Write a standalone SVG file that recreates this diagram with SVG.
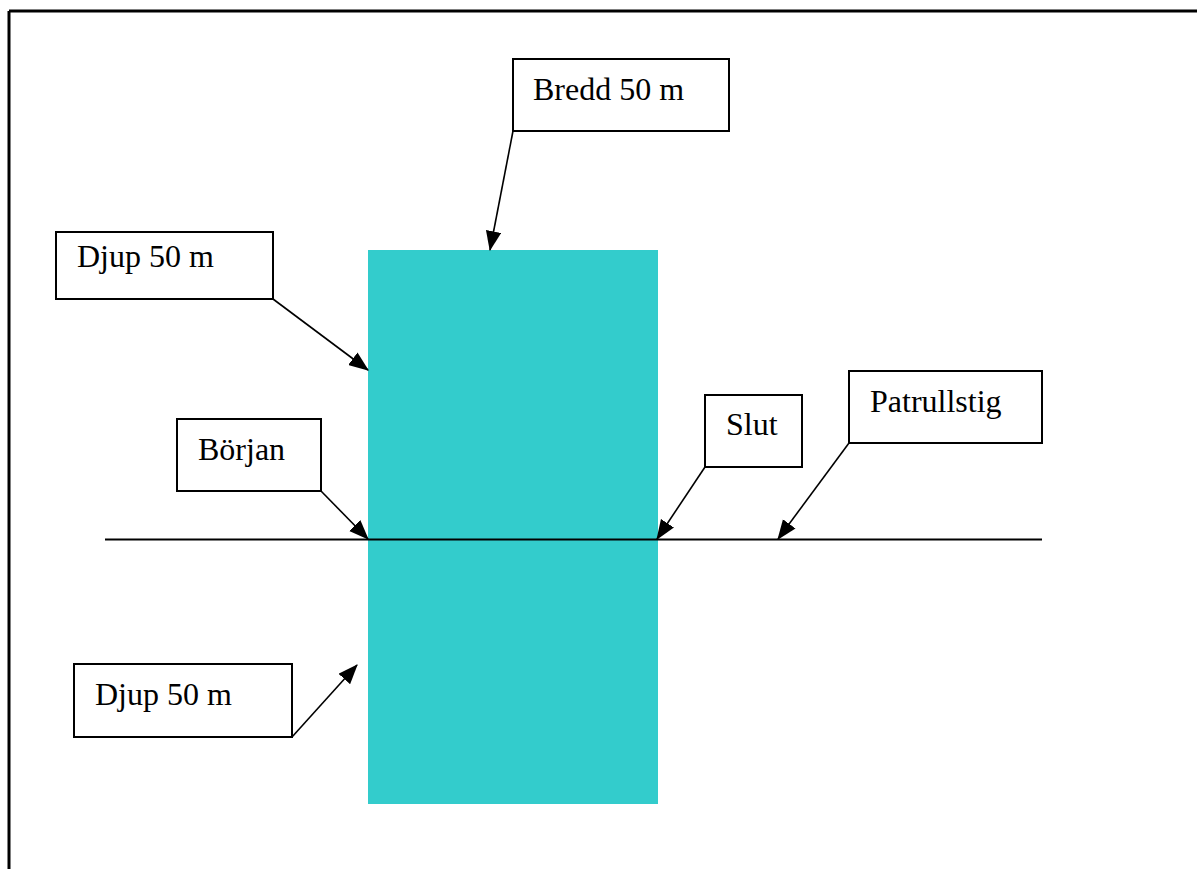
<svg xmlns="http://www.w3.org/2000/svg" width="1197" height="869" viewBox="0 0 1197 869">
<style>
.box{fill:#fff;stroke:#000;stroke-width:2}
.lbl{font-family:"Liberation Serif","Times New Roman",serif;font-size:32px;fill:#000}
.conn{stroke:#000;stroke-width:1.6;fill:none}
</style>
<defs>
<marker id="arr" markerUnits="userSpaceOnUse" markerWidth="20" markerHeight="16" refX="17" refY="7" orient="auto" viewBox="0 0 18 14">
<path d="M0,0 L18,7 L0,14 Z" fill="#000"/>
</marker>
</defs>
<rect x="0" y="0" width="1197" height="869" fill="#fff"/>
<g id="frame">
<line x1="9" y1="11" x2="1197" y2="11" stroke="#000" stroke-width="3"/>
<line x1="9" y1="11" x2="9" y2="869" stroke="#000" stroke-width="3"/>
</g>
<g id="area">
<rect x="368" y="250" width="290" height="554" fill="#33CCCC"/>
</g>
<g id="path-line">
<line x1="105" y1="539.5" x2="1042" y2="539.5" stroke="#000" stroke-width="2"/>
</g>
<g id="connectors">
<line class="conn" x1="513" y1="131" x2="490" y2="250" marker-end="url(#arr)"/>
<line class="conn" x1="273" y1="299" x2="368" y2="370" marker-end="url(#arr)"/>
<line class="conn" x1="321" y1="491" x2="368" y2="539" marker-end="url(#arr)"/>
<line class="conn" x1="705" y1="467" x2="657" y2="539" marker-end="url(#arr)"/>
<line class="conn" x1="849" y1="443" x2="778" y2="539" marker-end="url(#arr)"/>
<line class="conn" x1="292" y1="737" x2="357" y2="665" marker-end="url(#arr)"/>
</g>
<g id="bredd">
<rect class="box" x="513" y="59" width="216" height="72"/>
<text class="lbl" x="533" y="100">Bredd 50 m</text>
</g>
<g id="djup-top">
<rect class="box" x="56" y="232" width="217" height="67"/>
<text class="lbl" x="77" y="267">Djup 50 m</text>
</g>
<g id="borjan">
<rect class="box" x="177" y="419" width="144" height="72"/>
<text class="lbl" x="198" y="460">Början</text>
</g>
<g id="slut">
<rect class="box" x="705" y="395" width="97" height="72"/>
<text class="lbl" x="726" y="435">Slut</text>
</g>
<g id="patrullstig">
<rect class="box" x="849" y="371" width="193" height="72"/>
<text class="lbl" x="870" y="412">Patrullstig</text>
</g>
<g id="djup-bottom">
<rect class="box" x="74" y="664" width="218" height="73"/>
<text class="lbl" x="95" y="705">Djup 50 m</text>
</g>
</svg>
